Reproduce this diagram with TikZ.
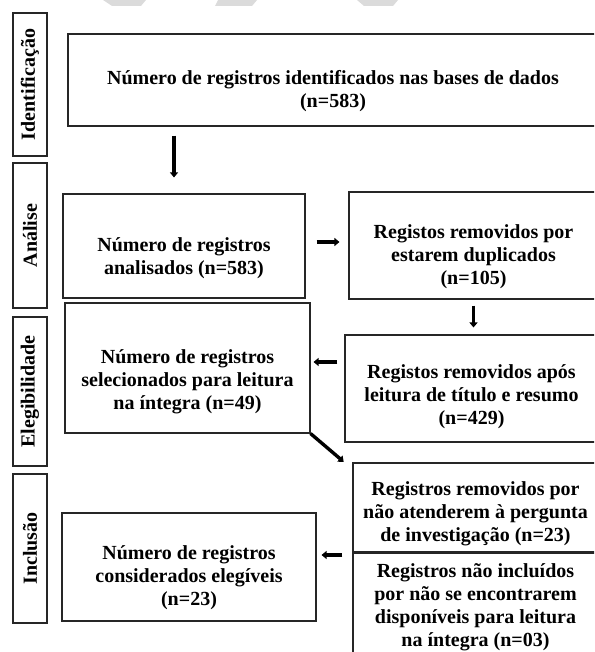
\documentclass[tikz,border=0pt]{standalone}
\usepackage{fontspec}
\setmainfont{Liberation Serif}
\usetikzlibrary{arrows.meta, positioning}

\begin{document}
\begin{tikzpicture}[x=1pt, y=-1pt,
		block/.style={rectangle, draw=black!85, line width=1.1pt, inner sep=0pt},
		txt/.style={align=center, inner sep=0pt, font=\fontsize{20}{23}\selectfont\bfseries},
		side/.style={block, txt, rotate=90, minimum height=34pt},
		line/.style={draw, line width=3.4pt, -{Triangle[length=5pt, width=8pt]}}
	]
	\useasboundingbox (0,0) rectangle (594,652);
	\clip (0,0) rectangle (594,652);

	% watermark
	\fill[black!14] (103,0) -- (146,0) -- (141,6) -- (112,6) -- cycle;
	\fill[black!14] (218,0) -- (257,0) -- (252,6) -- (215,6) -- cycle;
	\fill[black!14] (357,0) -- (398,0) -- (393,6) -- (364,6) -- cycle;

	% phases
	\node [side, minimum width=143pt] (phase1) at (30,84.5) {Identificação};
	\node [side, minimum width=145pt] (phase2) at (30,235.5) {Análise};
	\node [side, minimum width=149pt] (phase3) at (30,391.5) {Elegibilidade};
	\node [side, minimum width=149pt] (phase4) at (30,548.5) {Inclusão};

	% boxes
	\node [block, minimum width=530pt, minimum height=92pt] (ident) at (333,80) {};
	\node [block, minimum width=242pt, minimum height=104pt] (analise) at (184,246) {};
	\node [block, minimum width=249pt, minimum height=107pt] (dup) at (473.5,245.5) {};
	\node [block, minimum width=245pt, minimum height=130pt] (selec) at (187.5,368) {};
	\node [block, minimum width=253pt, minimum height=107pt] (apos) at (471.5,388.5) {};
	\node [block, minimum width=245pt, minimum height=89pt] (rem1) at (475.5,507.5) {};
	\node [block, below=0pt of rem1, minimum width=245pt, minimum height=107pt] (rem2) {};
	\node [block, minimum width=254pt, minimum height=108pt] (consid) at (189,567) {};

	\node [txt, at={(ident.center)}, yshift=-11pt] (identtxt) {Número de registros identificados nas bases de dados\\ (n=583)};
	\node [txt, at={(analise.center)}, yshift=-12pt] (analisetxt) {Número de registros\\ analisados (n=583)};
	\node [txt, at={(dup.center)}, yshift=-11pt] (duptxt) {Registos removidos por\\ estarem duplicados\\ (n=105)};
	\node [txt, at={(selec.center)}, yshift=-14pt] (selectxt) {Número de registros\\ selecionados para leitura\\ na íntegra (n=49)};
	\node [txt, at={(apos.center)}, yshift=-8pt] (apostxt) {Registos removidos após\\ leitura de título e resumo\\ (n=429)};
	\node [txt, at={(rem1.center)}, yshift=-6pt] (rem1txt) {Registros removidos por\\ não atenderem à pergunta\\ de investigação (n=23)};
	\node [txt, at={(rem2.center)}, yshift=-1pt] (rem2txt) {Registros não incluídos\\ por não se encontrarem\\ disponíveis para leitura\\ na íntegra (n=03)};
	\node [txt, at={(consid.center)}, yshift=-11pt] (considtxt) {Número de registros\\ considerados elegíveis\\ (n=23)};

	\path [line, shorten <=9pt, shorten >=16pt] ([xshift=-10pt]analise.north |- ident.south) -- ([xshift=-10pt]analise.north);
	\path [line, shorten <=11pt, shorten >=9pt] ([yshift=4pt]analise.east) -- ([yshift=4pt]analise.east -| dup.west);
	\path [line, shorten <=6pt, shorten >=7pt] (dup.south) -- (dup.south |- apos.north);
	\path [line, shorten <=7pt, shorten >=3pt] ([yshift=6pt]selec.east -| apos.west) -- ([yshift=6pt]selec.east);
	\path [line, shorten >=1pt] (selec.south east) -- ([xshift=-8pt]rem1.north west);
	\path [line, shorten <=10pt, shorten >=5pt] ([yshift=12pt]consid.east -| rem2.west) -- ([yshift=12pt]consid.east);
\end{tikzpicture}
\end{document}
